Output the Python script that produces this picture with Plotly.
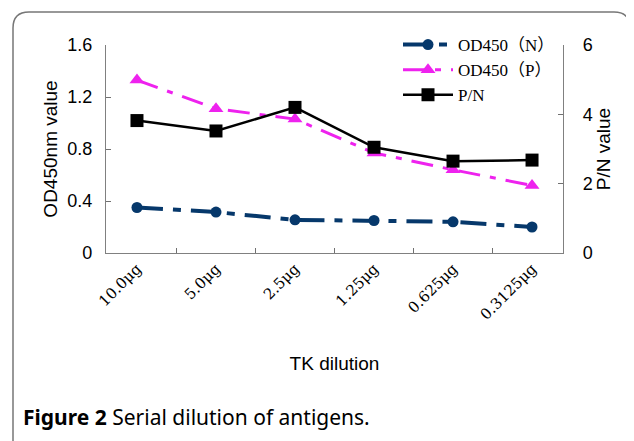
import plotly.graph_objects as go

categories = ["10.0μg", "5.0μg", "2.5μg", "1.25μg", "0.625μg", "0.3125μg"]
od_n = [0.35, 0.315, 0.255, 0.25, 0.24, 0.20]
od_p = [1.33, 1.11, 1.03, 0.77, 0.64, 0.52]
pn = [3.82, 3.52, 4.20, 3.05, 2.65, 2.68]

# page has an 8px body margin; figure is sized so that it fills the window
OFF = 8
W, H = 634 - OFF, 441 - OFF
# plot area in screen pixels
SL, SR, ST, SB = 106, 563, 45, 253
L, R, T, B = SL - OFF, SR - OFF, ST - OFF, SB - OFF

def px(x):  # screen x -> paper
    return (x - SL) / (SR - SL)

def py(y):  # screen y -> paper
    return (SB - y) / (SB - ST)

fig = go.Figure()
fig.add_trace(go.Scatter(
    x=categories, y=od_n, name="OD450（N）", mode="lines+markers",
    line=dict(color="#06386b", width=4, dash="26px,10px,8px,10px"),
    marker=dict(symbol="circle", size=11, color="#06386b"),
))
fig.add_trace(go.Scatter(
    x=categories, y=od_p, name="OD450（P）", mode="lines+markers",
    line=dict(color="#ee22ee", width=3, dash="22px,10px,6px,10px"),
    marker=dict(symbol="triangle-up", size=13, color="#ee22ee"),
))
fig.add_trace(go.Scatter(
    x=categories, y=pn, name="P/N", mode="lines+markers", yaxis="y2",
    line=dict(color="black", width=2.5),
    marker=dict(symbol="square", size=13, color="black"),
))

axis_common = dict(showline=True, linecolor="#808080", linewidth=1.2,
                   ticks="inside", ticklen=5, tickcolor="#707070", tickwidth=1.2,
                   showgrid=False, zeroline=False, automargin=False)

# rounded frame (screen pixel positions)
fx0, fx1, fy_top, fy_bot, rad = 13, 630, 12, 455, 16
rx, ry = rad / (SR - SL), rad / (SB - ST)
x0, x1, yt, yb = px(fx0), px(fx1), py(fy_top), py(fy_bot)
path = (f"M {x0},{yb} L {x0},{yt - ry} Q {x0},{yt} {x0 + rx},{yt} "
        f"L {x1 - rx},{yt} Q {x1},{yt} {x1},{yt - ry} L {x1},{yb}")

fig.update_layout(
    width=W, height=H,
    margin=dict(l=L, r=W - R, t=T, b=H - B, pad=0),
    paper_bgcolor="white", plot_bgcolor="white",
    font=dict(family="Liberation Sans, Arial", size=18, color="black"),
    showlegend=True,
    legend=dict(x=px(398), y=py(27), xanchor="left", yanchor="top",
                bgcolor="rgba(0,0,0,0)",
                font=dict(family="Liberation Serif, Noto Sans CJK SC", size=17, color="black"),
                tracegroupgap=0, itemwidth=50),
    xaxis=dict(**axis_common, tickson="boundaries", tickangle=-45,
               tickfont=dict(family="DejaVu Serif, Liberation Serif", size=15),
               title=dict(text="TK dilution", font=dict(size=19), standoff=34)),
    yaxis=dict(**axis_common, range=[0, 1.6], tickvals=[0, 0.4, 0.8, 1.2, 1.6],
               ticktext=["0", "0.4", "0.8", "1.2", "1.6"], ticklabelstandoff=9,
               title=dict(text="OD450nm value", font=dict(size=19), standoff=4),
               tickfont=dict(size=18)),
    yaxis2=dict(**axis_common, overlaying="y", side="right", range=[0, 6],
                tickvals=[0, 2, 4, 6], ticklabelstandoff=15,
                title=dict(text="P/N value", font=dict(size=19), standoff=4),
                tickfont=dict(size=18)),
    shapes=[dict(type="path", xref="paper", yref="paper", path=path,
                 line=dict(color="#777777", width=1.5), layer="above")],
    annotations=[dict(xref="paper", yref="paper", x=px(21), y=py(417),
                      xanchor="left", yanchor="middle", showarrow=False,
                      text="<b>Figure 2</b> Serial dilution of antigens.",
                      font=dict(family="Noto Sans, Open Sans", size=21, color="black"))],
)

fig.write_html("out.html", config={"displayModeBar": False})
